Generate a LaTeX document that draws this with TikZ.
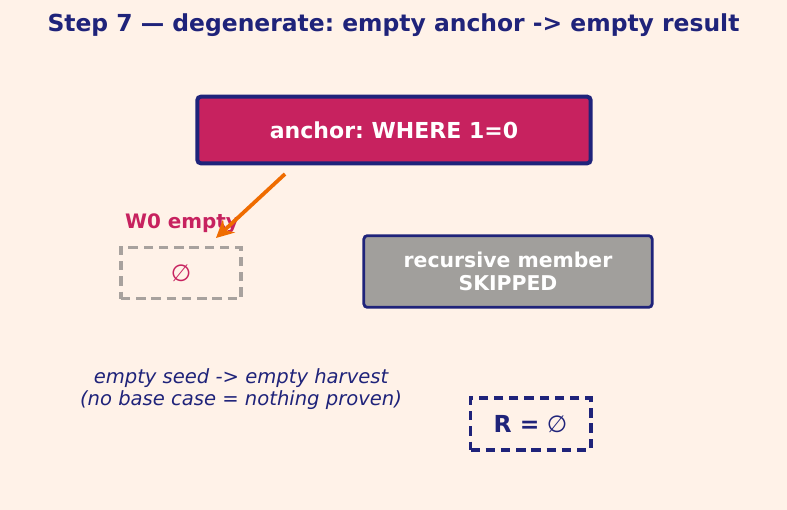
\documentclass[tikz,border=0pt]{standalone}
\usepackage{fontspec}
\setmainfont{DejaVu Sans}
\usetikzlibrary{arrows.meta}
\frenchspacing

\definecolor{bgcream}{HTML}{FFF2E8}
\definecolor{navy}{HTML}{1F237A}
\definecolor{crimson}{HTML}{C7225F}
\definecolor{greybox}{HTML}{A19F9C}
\definecolor{greydash}{HTML}{A8A29E}
\definecolor{arroworange}{HTML}{EF6C00}

\tikzset{
  boxlabel/.style={text=white, font=\bfseries\fontsize{17.4}{20}\selectfont, align=center},
  solidbox/.style={draw=navy, rounded corners=3pt, inner sep=0pt},
  dashbox/.style={dash pattern=on 8pt off 5pt, line width=3.4pt, inner sep=0pt}
}

\begin{document}
\begin{tikzpicture}[x=0.03cm, y=-0.03cm, >=Stealth]
  % Background (fixes the page size)
  \fill[bgcream] (0,0) rectangle (787,510);
  \useasboundingbox (0,0) rectangle (787,510);

  % Title
  \node[text=navy, font=\bfseries\fontsize{20}{24}\selectfont] (title) at (393.5,25) {Step 7 — degenerate: empty anchor -> empty result};

  % Anchor box
  \node[solidbox, fill=crimson, line width=3.4pt, minimum width=11.8cm, minimum height=2.0cm,
        boxlabel, font=\bfseries\fontsize{18.8}{22}\selectfont] (anchor) at (394,130) {anchor: WHERE 1=0};

  % W0: empty working table
  \node[text=crimson, font=\bfseries\fontsize{17}{20}\selectfont, anchor=west] (w0label) at (121,223) {W0 empty};
  \node[dashbox, draw=greydash, minimum width=3.6cm, minimum height=1.53cm,
        text=crimson, font=\fontsize{20}{22}\selectfont] (w0) at (181,273) {∅};

  % Orange arrow: anchor gives nothing
  \coordinate (arrowtail) at (285,174);
  \coordinate (arrowhead) at (216,238);
  \draw[arroworange, line width=3.2pt, -{Stealth[length=15pt,width=15pt]}] (arrowtail) -- (arrowhead);

  % Recursive member
  \node[solidbox, fill=greybox, line width=2.4pt, minimum width=8.65cm, minimum height=2.15cm,
        boxlabel] (recursive) at (508,271.5) {recursive member\\SKIPPED};

  % Caption
  \node[text=navy, font=\itshape\fontsize{16.7}{19}\selectfont, align=center] (caption) at (241,389)
    {empty seed -> empty harvest\\(no base case = nothing proven)};

  % Result
  \node[dashbox, draw=navy, minimum width=3.6cm, minimum height=1.55cm,
        text=navy, font=\fontsize{20}{22}\selectfont] (result) at (530.5,424) {\textbf{R =} ∅};
\end{tikzpicture}
\end{document}
